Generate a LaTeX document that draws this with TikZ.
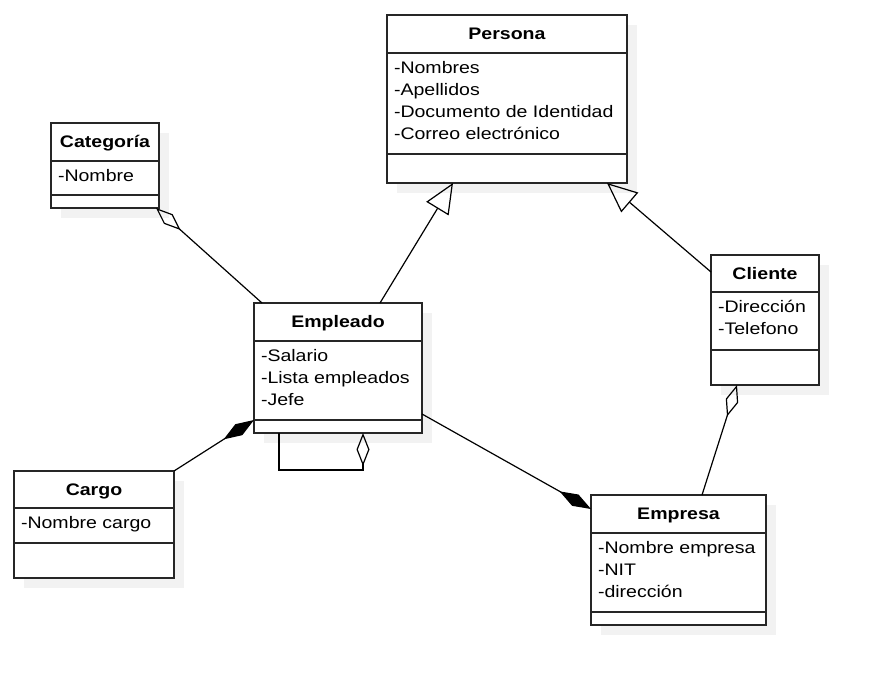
\documentclass[tikz,border=0pt]{standalone}
\usepackage{fontspec}
\setmainfont{Liberation Sans}[FakeStretch=1.17]
\usetikzlibrary{arrows.meta, shadows}

\begin{document}
\begin{tikzpicture}
        [x=1pt, y=-1pt,
         every node/.style={inner sep=0, outer sep=0, font=\fontsize{16.7pt}{22pt}\selectfont},
         classbox/.style={draw=black!85, line width=1.5pt, fill=white,
           drop shadow={fill=black!5, opacity=1, shadow xshift=10pt, shadow yshift=-10pt}},
         classname/.style={anchor=base, font=\fontsize{16.7pt}{22pt}\selectfont\bfseries},
         attr/.style={anchor=base west},
         divider/.style={draw=black!85, line width=1.5pt},
         link/.style={draw=black, line width=1.2pt},
         inherit/.style={link, -{Triangle[open, length=30pt, width=26pt]}},
         aggr/.style={link, -{Diamond[open, length=33pt, width=13pt]}},
         comp/.style={link, -{Diamond[length=36pt, width=13pt]}}]

        \useasboundingbox[fill=white] (0, 0) rectangle (879, 685);

        % Persona
        \node[classbox, minimum width=240pt, minimum height=168pt] (persona) at (507, 99) {};
        \draw[divider] (persona.west |- 0,53) -- (persona.east |- 0,53);
        \draw[divider] (persona.west |- 0,154) -- (persona.east |- 0,154);
        \node[classname] (personaName) at (507, 39.5) {Persona};
        \foreach \a [count=\i from 0] in {-Nombres, -Apellidos, -Documento de Identidad, -Correo electrónico}
          \node[attr] (persona-\i) at (394, 73.5+22*\i) {\a};

        % Categoria
        \node[classbox, minimum width=108pt, minimum height=85pt] (categoria) at (105, 165.5) {};
        \draw[divider] (categoria.west |- 0,161) -- (categoria.east |- 0,161);
        \draw[divider] (categoria.west |- 0,195) -- (categoria.east |- 0,195);
        \node[classname] (categoriaName) at (105, 147.5) {Categoría};
        \node[attr] (categoria-0) at (58, 181.5) {-Nombre};

        % Empleado
        \node[classbox, minimum width=168pt, minimum height=130pt] (empleado) at (338, 368) {};
        \draw[divider] (empleado.west |- 0,341) -- (empleado.east |- 0,341);
        \draw[divider] (empleado.west |- 0,420) -- (empleado.east |- 0,420);
        \node[classname] (empleadoName) at (338, 327.5) {Empleado};
        \foreach \a [count=\i from 0] in {-Salario, -Lista empleados, -Jefe}
          \node[attr] (empleado-\i) at (261, 361.5+22*\i) {\a};

        % Cargo
        \node[classbox, minimum width=160pt, minimum height=107pt] (cargo) at (94, 524.5) {};
        \draw[divider] (cargo.west |- 0,508) -- (cargo.east |- 0,508);
        \draw[divider] (cargo.west |- 0,543) -- (cargo.east |- 0,543);
        \node[classname] (cargoName) at (94, 495) {Cargo};
        \node[attr] (cargo-0) at (21, 528.5) {-Nombre cargo};

        % Empresa
        \node[classbox, minimum width=175pt, minimum height=130pt] (empresa) at (678.5, 560) {};
        \draw[divider] (empresa.west |- 0,533) -- (empresa.east |- 0,533);
        \draw[divider] (empresa.west |- 0,612) -- (empresa.east |- 0,612);
        \node[classname] (empresaName) at (678.5, 519.5) {Empresa};
        \foreach \a [count=\i from 0] in {-Nombre empresa, -NIT, -dirección}
          \node[attr] (empresa-\i) at (598, 553.5+22*\i) {\a};

        % Cliente
        \node[classbox, minimum width=108pt, minimum height=130pt] (cliente) at (765, 320) {};
        \draw[divider] (cliente.west |- 0,292) -- (cliente.east |- 0,292);
        \draw[divider] (cliente.west |- 0,350) -- (cliente.east |- 0,350);
        \node[classname] (clienteName) at (765, 279) {Cliente};
        \foreach \a [count=\i from 0] in {-Dirección, -Telefono}
          \node[attr] (cliente-\i) at (718, 312.5+22*\i) {\a};

        % relaciones
        \draw[inherit] ([xshift=42pt]empleado.north) -- ([xshift=-54pt]persona.south);
        \draw[inherit] ([yshift=48pt]cliente.west) -- ([xshift=100pt]persona.south);
        \draw[aggr] ([xshift=8pt]empleado.north west) -- ([xshift=-3pt]categoria.south east);
        \draw[comp] (cargo.north east) -- ([yshift=-52pt]empleado.west);
        \draw[comp] ([yshift=-46pt]empleado.east) -- ([yshift=51pt]empresa.west);
        \draw[aggr] ([xshift=23.5pt]empresa.north) -- ([xshift=-28pt]cliente.south);
        \draw[aggr] ([xshift=-59pt]empleado.south) -- ++(0, 37) -| ([xshift=25pt]empleado.south);

\end{tikzpicture}
\end{document}
